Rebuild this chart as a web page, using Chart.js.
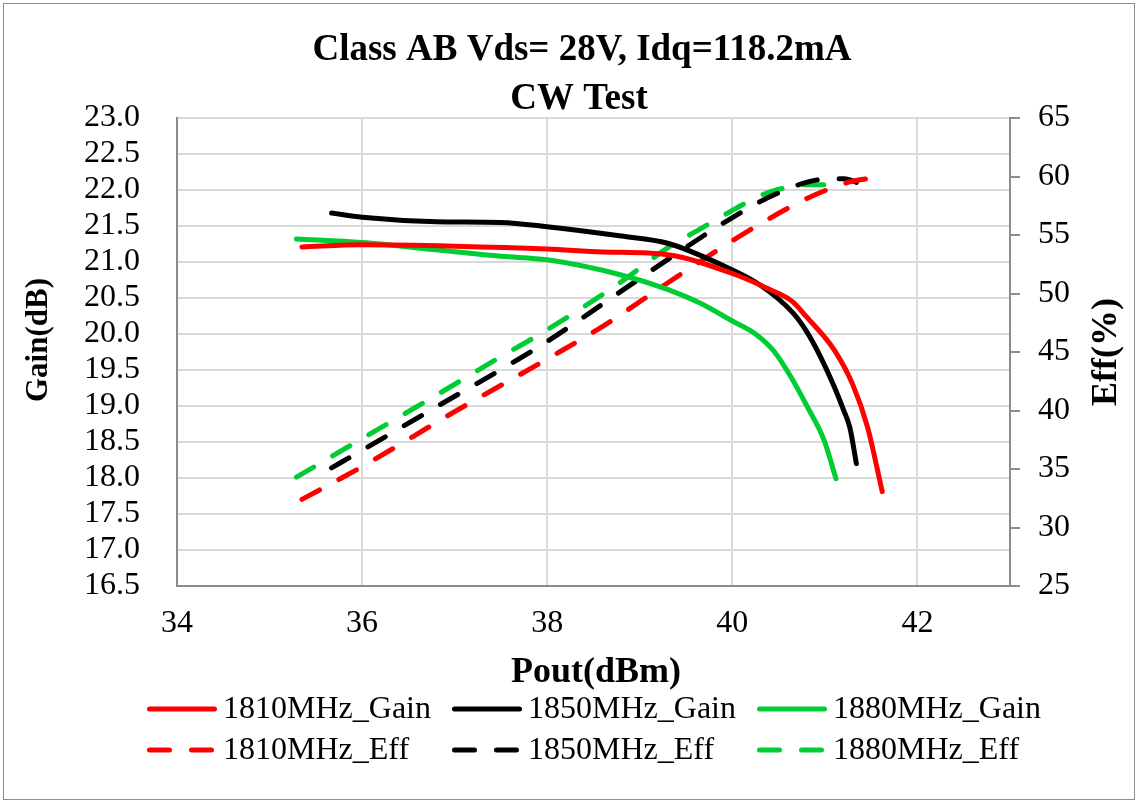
<!DOCTYPE html>
<html><head><meta charset="utf-8">
<script src="https://cdn.jsdelivr.net/npm/chart.js@4.4.1/dist/chart.umd.min.js"></script>
<style>html,body{margin:0;padding:0;background:#fff}canvas{display:block}</style>
</head><body>
<canvas id="c" width="1138" height="805"></canvas>
<script>
// ---- data ----
const pout1810 = [35.35, 36.0, 37.0, 38.0, 38.6, 39.3, 40.0, 40.4, 40.65, 40.8, 41.1, 41.3, 41.46, 41.62];
const gain1810 = [21.21, 21.24, 21.22, 21.18, 21.14, 21.10, 20.84, 20.62, 20.45, 20.24, 19.78, 19.30, 18.71, 17.81];
const eff1810  = [32.4, 35.2, 39.9, 44.4, 47.2, 50.9, 54.5, 56.4, 57.5, 58.1, 59.1, 59.6, 59.8, 59.9];

const pout1850 = [35.67, 36.0, 36.8, 37.5, 38.0, 38.8, 39.3, 39.9, 40.3, 40.65, 40.8, 40.95, 41.1, 41.2, 41.27, 41.34];
const gain1850 = [21.68, 21.62, 21.56, 21.55, 21.49, 21.36, 21.26, 20.95, 20.68, 20.30, 20.04, 19.69, 19.27, 18.95, 18.70, 18.20];
const eff1850  = [35.1, 36.6, 40.3, 43.5, 45.9, 50.2, 52.9, 56.0, 57.85, 59.1, 59.5, 59.75, 59.8, 59.8, 59.7, 59.5];

const pout1880 = [35.29, 36.0, 36.8, 37.5, 38.0, 38.8, 39.3, 39.65, 40.0, 40.26, 40.45, 40.63, 40.81, 40.99, 41.12];
const gain1880 = [21.32, 21.27, 21.17, 21.08, 21.03, 20.82, 20.62, 20.43, 20.18, 19.99, 19.76, 19.41, 18.99, 18.53, 17.99];
const eff1880  = [34.3, 37.6, 41.3, 44.6, 46.9, 51.0, 53.9, 55.5, 57.1, 58.2, 58.8, 59.1, 59.3, 59.3, 59.2];

const seriesNames = ['1810MHz_Gain', '1850MHz_Gain', '1880MHz_Gain', '1810MHz_Eff', '1850MHz_Eff', '1880MHz_Eff'];
const titleLines = ['Class AB Vds= 28V, Idq=118.2mA', 'CW Test'];
const xTitle = 'Pout(dBm)';
const yTitle = 'Gain(dB)';
const y1Title = 'Eff(%)';

// ---- styling ----
const FONT = "'Liberation Serif', 'Times New Roman', serif";
const RED = '#ff0000', BLACK = '#000000', GREEN = '#00cc33';
const DASH = [20, 22];
const LW = 5;

function pts(xs, ys) { return xs.map((x, i) => ({ x: x, y: ys[i] })); }

function ds(label, xs, ys, color, axis, dashed) {
  return {
    label: label, data: pts(xs, ys), yAxisID: axis,
    borderColor: color, backgroundColor: color, borderWidth: LW,
    borderDash: dashed ? DASH : [], borderCapStyle: 'round', borderJoinStyle: 'round',
    pointRadius: 0, pointHoverRadius: 0, showLine: true, fill: false,
    cubicInterpolationMode: 'monotone'
  };
}

const datasets = [
  ds(seriesNames[0], pout1810, gain1810, RED, 'y', false),
  ds(seriesNames[1], pout1850, gain1850, BLACK, 'y', false),
  ds(seriesNames[2], pout1880, gain1880, GREEN, 'y', false),
  ds(seriesNames[3], pout1810, eff1810, RED, 'y1', true),
  ds(seriesNames[4], pout1850, eff1850, BLACK, 'y1', true),
  ds(seriesNames[5], pout1880, eff1880, GREEN, 'y1', true)
];

const decor = {
  id: 'decor',
  afterDraw(chart) {
    const ctx = chart.ctx;
    ctx.save();
    // outer border
    ctx.strokeStyle = '#8c8c8c'; ctx.lineWidth = 1;
    ctx.strokeRect(3.5, 3.5, 1131, 796);
    ctx.fillStyle = '#000';
    // title
    ctx.font = 'bold 37px ' + FONT;
    ctx.textAlign = 'center'; ctx.textBaseline = 'alphabetic';
    ctx.fillText(titleLines[0], 582, 60);
    ctx.fillText(titleLines[1], 579, 109);
    // x title
    ctx.font = 'bold 36px ' + FONT;
    ctx.fillText(xTitle, 596, 682);
    // y titles (rotated, reading upward)
    ctx.save(); ctx.translate(1116, 352); ctx.rotate(-Math.PI / 2);
    ctx.fillText(y1Title, 0, 0); ctx.restore();
    ctx.font = 'bold 31px ' + FONT;
    ctx.save(); ctx.translate(47, 340); ctx.rotate(-Math.PI / 2);
    ctx.fillText(yTitle, 0, 0); ctx.restore();
    // legend
    const colX = [147, 452, 757];
    const rowY = [709, 750];
    ctx.font = '32px ' + FONT;
    ctx.textAlign = 'left';
    for (let i = 0; i < 6; i++) {
      const d = chart.data.datasets[i];
      const c = i % 3, r = Math.floor(i / 3);
      const x0 = colX[c], y = rowY[r];
      ctx.save();
      ctx.strokeStyle = d.borderColor; ctx.lineWidth = LW; ctx.lineCap = 'round';
      ctx.setLineDash(d.borderDash || []);
      ctx.beginPath(); ctx.moveTo(x0 + 2.5, y); ctx.lineTo(x0 + 67.5, y); ctx.stroke();
      ctx.restore();
      ctx.fillStyle = '#000';
      ctx.fillText(d.label, x0 + 76, y + 9);
    }
    ctx.restore();
  }
};

new Chart(document.getElementById('c'), {
  type: 'scatter',
  data: { datasets: datasets },
  options: {
    responsive: false, animation: false, devicePixelRatio: 1,
    layout: { padding: { top: 118, left: 0, right: 0, bottom: 0 } },
    plugins: { legend: { display: false }, title: { display: false }, tooltip: { enabled: false } },
    scales: {
      x: {
        type: 'linear', min: 34, max: 43,
        ticks: { stepSize: 2, includeBounds: false, autoSkip: false, maxRotation: 0, padding: 18, color: '#000', font: { family: FONT, size: 32 } },
        grid: { color: '#d9d9d9', lineWidth: 2, drawTicks: false },
        border: { color: '#8c8c8c', width: 2 },
        afterFit(s) { s.height = 219; }
      },
      y: {
        type: 'linear', position: 'left', min: 16.5, max: 23,
        ticks: { stepSize: 0.5, autoSkip: false, padding: 37, color: '#000', font: { family: FONT, size: 32 },
                 callback: v => Number(v).toFixed(1) },
        grid: { color: '#d9d9d9', lineWidth: 2, drawTicks: false },
        border: { color: '#8c8c8c', width: 2 },
        afterFit(s) { s.width = 177; }
      },
      y1: {
        type: 'linear', position: 'right', min: 25, max: 65,
        ticks: { stepSize: 5, autoSkip: false, padding: 18, color: '#000', font: { family: FONT, size: 32 } },
        grid: { drawOnChartArea: false, drawTicks: true, tickLength: 10, color: '#8c8c8c', lineWidth: 2 },
        border: { color: '#8c8c8c', width: 2 },
        afterFit(s) { s.width = 128; }
      }
    }
  },
  plugins: [decor]
});
</script>
</body></html>
